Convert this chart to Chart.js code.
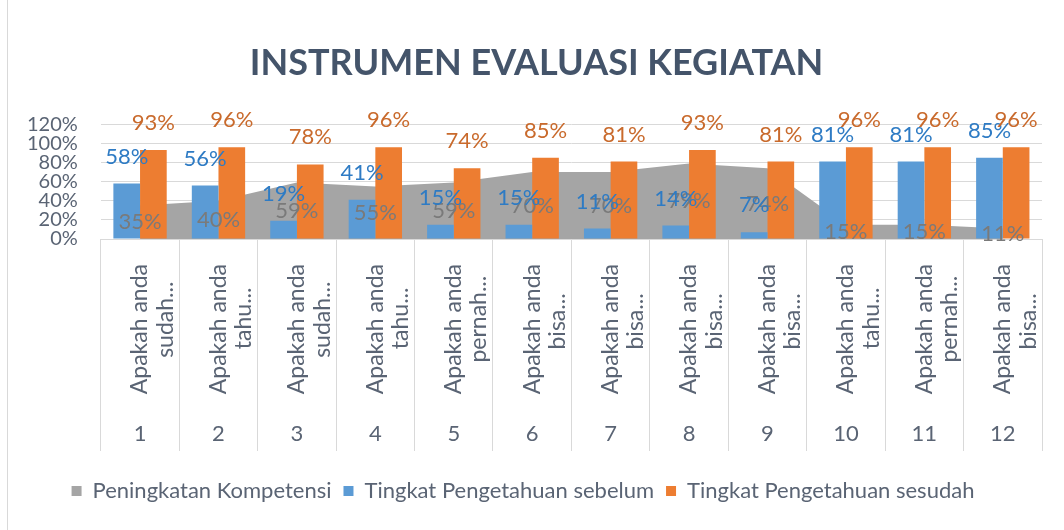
<!DOCTYPE html>
<html>
<head>
<meta charset="utf-8">
<script src="https://cdn.jsdelivr.net/npm/chart.js@4.4.0/dist/chart.umd.min.js"></script>
<style>
  html, body { margin: 0; padding: 0; background: #fff; }
  #wrap { width: 1064px; height: 530px; position: relative; }
  #wrap:before { content: ""; position: absolute; left: 7px; top: 0; bottom: 0; border-left: 1px solid #d9d9d9; }
</style>
</head>
<body>
<div id="wrap"><canvas id="chart" width="1064" height="530"></canvas></div>
<script>
// category labels (rotated question text + question number)
const questionStart = "Apakah anda";
const questionWords = ["sudah...", "tahu...", "sudah...", "tahu...", "pernah...", "bisa...",
  "bisa...", "bisa...", "bisa...", "tahu...", "pernah...", "bisa..."];
const numbers = ["1", "2", "3", "4", "5", "6", "7", "8", "9", "10", "11", "12"];

// series values (percent)
const peningkatan = [35, 40, 59, 55, 59, 70, 70, 79, 74, 15, 15, 11];
const sebelum = [58, 56, 19, 41, 15, 15, 11, 14, 7, 81, 81, 85];
const sesudah = [93, 96, 78, 96, 74, 85, 81, 93, 81, 96, 96, 96];

const yMin = 0, yMax = 120, yStep = 20;

const FONT = "Lato";
const axisColor = "#5a6474";
const tickFont = "23px " + FONT;

// second line of the rotated label is roughly centred under the first one
const mctx = document.createElement("canvas").getContext("2d");
mctx.font = tickFont;
const questions = questionWords.map(w => {
  const gap = (mctx.measureText(questionStart).width - mctx.measureText(w).width) / 2 - 8;
  const n = Math.max(0, Math.round(gap / mctx.measureText(" ").width));
  return [questionStart, w + " ".repeat(n)];
});

// value labels drawn above bars / in the middle of the area
const valueLabels = {
  id: "valueLabels",
  afterDatasetsDraw(chart) {
    const ctx = chart.ctx;
    const y = chart.scales.y;
    ctx.save();
    ctx.font = "22px " + FONT;
    ctx.textAlign = "center";
    ctx.textBaseline = "middle";
    chart.data.datasets.forEach((ds, i) => {
      const meta = chart.getDatasetMeta(i);
      meta.data.forEach((el, j) => {
        const v = ds.data[j];
        const py = ds.type === "line" ? y.getPixelForValue(v / 2) : el.y - 27;
        ctx.fillStyle = ds.labelColor;
        ctx.fillText(v + "%", el.x, py);
      });
    });
    ctx.restore();
  }
};

new Chart(document.getElementById("chart").getContext("2d"), {
  type: "bar",
  data: {
    labels: questions,
    datasets: [
      {
        type: "line",
        label: "Peningkatan Kompetensi",
        data: peningkatan,
        backgroundColor: "#a5a5a5",
        borderColor: "#a5a5a5",
        borderWidth: 0,
        fill: "origin",
        pointRadius: 0,
        tension: 0,
        order: 3,
        labelColor: "#7a7a7a"
      },
      {
        label: "Tingkat Pengetahuan sebelum",
        data: sebelum,
        backgroundColor: "#5b9bd5",
        order: 1,
        labelColor: "#2e7bc4"
      },
      {
        label: "Tingkat Pengetahuan sesudah",
        data: sesudah,
        backgroundColor: "#ed7d31",
        order: 1,
        labelColor: "#c96a2c"
      }
    ]
  },
  options: {
    responsive: false,
    animation: false,
    datasets: {
      bar: { categoryPercentage: 0.68, barPercentage: 1.0 }
    },
    layout: { padding: { left: 4, right: 22, top: 42, bottom: 18 } },
    plugins: {
      title: {
        display: true,
        text: "\u2003INSTRUMEN EVALUASI KEGIATAN",
        color: "#44546a",
        font: { family: FONT, size: 36, weight: "bold" },
        padding: { top: 0, bottom: 39 }
      },
      legend: {
        position: "bottom",
        labels: {
          color: axisColor,
          font: { family: FONT, size: 22 },
          boxWidth: 10,
          boxHeight: 10,
          padding: 12,
          sort: (a, b) => a.datasetIndex - b.datasetIndex
        }
      },
      tooltip: { enabled: false }
    },
    scales: {
      y: {
        min: yMin,
        max: yMax,
        ticks: {
          stepSize: yStep,
          autoSkip: false,
          color: axisColor,
          font: { family: FONT, size: 20 },
          padding: 23,
          callback: v => v + "%"
        },
        grid: { color: "#d9d9d9", drawTicks: false },
        border: { display: false }
      },
      x: {
        type: "category",
        offset: true,
        grid: {
          offset: true,
          drawOnChartArea: false,
          color: "#d9d9d9",
          tickLength: 212
        },
        border: { color: "#d9d9d9" },
        ticks: {
          autoSkip: false,
          minRotation: 90,
          maxRotation: 90,
          color: axisColor,
          font: { family: FONT, size: 23, lineHeight: 1.1 },
          padding: -187
        },
        afterFit: s => { s.height = 160; }
      },
      x2: {
        type: "category",
        labels: numbers,
        position: "bottom",
        offset: true,
        weight: 1,
        grid: { display: false, drawTicks: false },
        border: { display: false },
        ticks: {
          autoSkip: false,
          maxRotation: 0,
          color: axisColor,
          font: { family: FONT, size: 22 },
          padding: 22
        },
        afterFit: s => { s.height = 69; }
      }
    }
  },
  plugins: [valueLabels]
});
</script>
</body>
</html>
